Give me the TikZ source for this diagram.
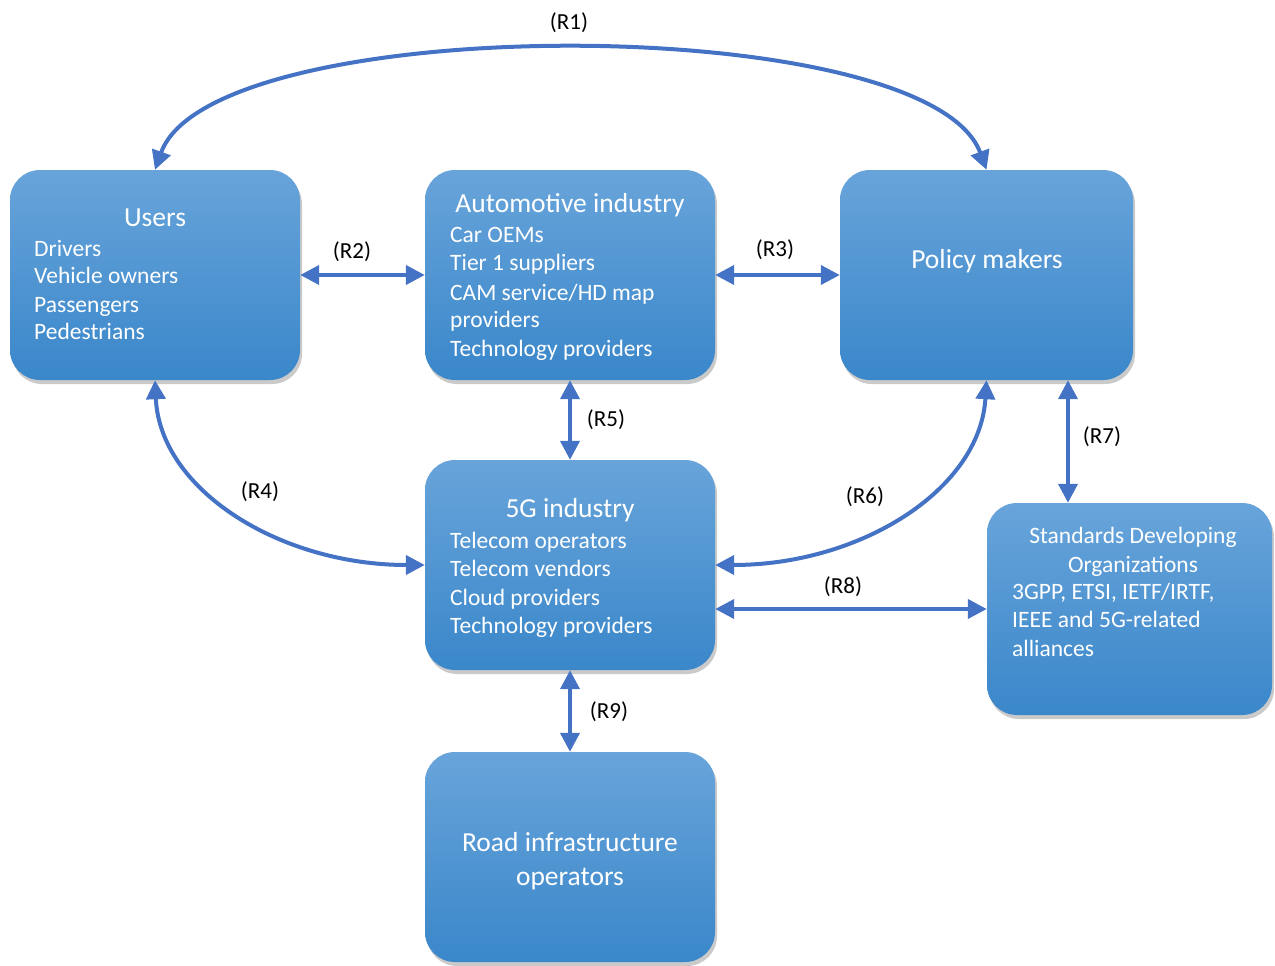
\documentclass[tikz,border=0pt]{standalone}
\usepackage{fontspec}
\setmainfont{Carlito}
\usetikzlibrary{arrows.meta,shadows}
\definecolor{arrowblue}{RGB}{68,114,196}
\definecolor{boxtop}{RGB}{104,164,218}
\definecolor{boxbot}{RGB}{58,135,202}
\tikzset{
  box/.style={draw=none, rounded corners=30pt, top color=boxtop, bottom color=boxbot,
    drop shadow={shadow xshift=2pt, shadow yshift=-4pt, opacity=0.35, fill=black!60},
    inner sep=0pt},
  ttl/.style={text=white, font=\fontsize{27.5}{32}\selectfont, anchor=base},
  itm/.style={text=white, font=\fontsize{23.5}{28}\selectfont, anchor=base west, inner sep=0pt},
  itc/.style={text=white, font=\fontsize{23.5}{28}\selectfont, anchor=base, inner sep=0pt},
  lbl/.style={text=black, font=\fontsize{23}{27}\selectfont},
  link/.style={draw=arrowblue, line width=4pt, {Triangle[length=19pt,width=19pt]}-{Triangle[length=19pt,width=19pt]}},
}
\begin{document}
\begin{tikzpicture}[x=1pt,y=-1pt]
\useasboundingbox (0,0) rectangle (1275,966);
% boxes
\node[box, minimum width=290pt, minimum height=210pt] (Users) at (155,275) {};
\node[box, minimum width=290pt, minimum height=210pt] (Auto) at (570,275) {};
\node[box, minimum width=293pt, minimum height=210pt] (Policy) at (986.5,275) {};
\node[box, minimum width=290pt, minimum height=210pt] (G5) at (570,565) {};
\node[box, minimum width=285pt, minimum height=212pt] (SDO) at (1129.5,609) {};
\node[box, minimum width=290pt, minimum height=210pt] (Road) at (570,857) {};
% texts
\node[ttl] (tUsers) at (155,226) {Users};
\node[itm] (u1) at (34,256) {Drivers};
\node[itm] (u2) at (34,283) {Vehicle owners};
\node[itm] (u3) at (34,312) {Passengers};
\node[itm] (u4) at (34,339) {Pedestrians};
\node[ttl] (tAuto) at (570,212) {Automotive industry};
\node[itm] (a1) at (450,242) {Car OEMs};
\node[itm] (a2) at (450,270) {Tier 1 suppliers};
\node[itm] (a3) at (450,300) {CAM service/HD map};
\node[itm] (a4) at (450,327) {providers};
\node[itm] (a5) at (450,356) {Technology providers};
\node[ttl] (tPolicy) at (987,268) {Policy makers};
\node[ttl] (tG5) at (570,517) {5G industry};
\node[itm] (g1) at (450,548) {Telecom operators};
\node[itm] (g2) at (450,576) {Telecom vendors};
\node[itm] (g3) at (450,605) {Cloud providers};
\node[itm] (g4) at (450,633) {Technology providers};
\node[itc] (s1) at (1133,543) {Standards Developing};
\node[itc] (s2) at (1133,572) {Organizations};
\node[itm] (s3) at (1012,599) {3GPP, ETSI, IETF/IRTF,};
\node[itm] (s4) at (1012,627) {IEEE and 5G-related};
\node[itm] (s5) at (1012,656) {alliances};
\node[ttl] (tRoad1) at (570,851) {Road infrastructure};
\node[ttl] (tRoad2) at (570,885) {operators};
% connectors
\coordinate (r7) at (1068,0);
\draw[link] (Users.north) .. controls (212,10) and (928,10) .. (Policy.north);
\draw[link] (Users.east) -- (Auto.west);
\draw[link] (Auto.east) -- (Policy.west);
\draw[link] (Users.south) .. controls (160,490) and (280,565) .. (G5.west);
\draw[link] (Auto.south) -- (G5.north);
\draw[link] (Policy.south) .. controls (980,490) and (860,565) .. (G5.east);
\draw[link] (Policy.south -| r7) -- (SDO.north -| r7);
\draw[link] (SDO.west -| G5.east) -- (SDO.west);
\draw[link] (G5.south) -- (Road.north);
% labels
\node[lbl] (R1) at (569,23) {(R1)};
\node[lbl] (R2) at (352,252) {(R2)};
\node[lbl] (R3) at (775,250) {(R3)};
\node[lbl] (R4) at (260,492) {(R4)};
\node[lbl] (R5) at (606,420) {(R5)};
\node[lbl] (R6) at (865,497) {(R6)};
\node[lbl] (R7) at (1102,437) {(R7)};
\node[lbl] (R8) at (843,587) {(R8)};
\node[lbl] (R9) at (609,712) {(R9)};
\end{tikzpicture}
\end{document}
